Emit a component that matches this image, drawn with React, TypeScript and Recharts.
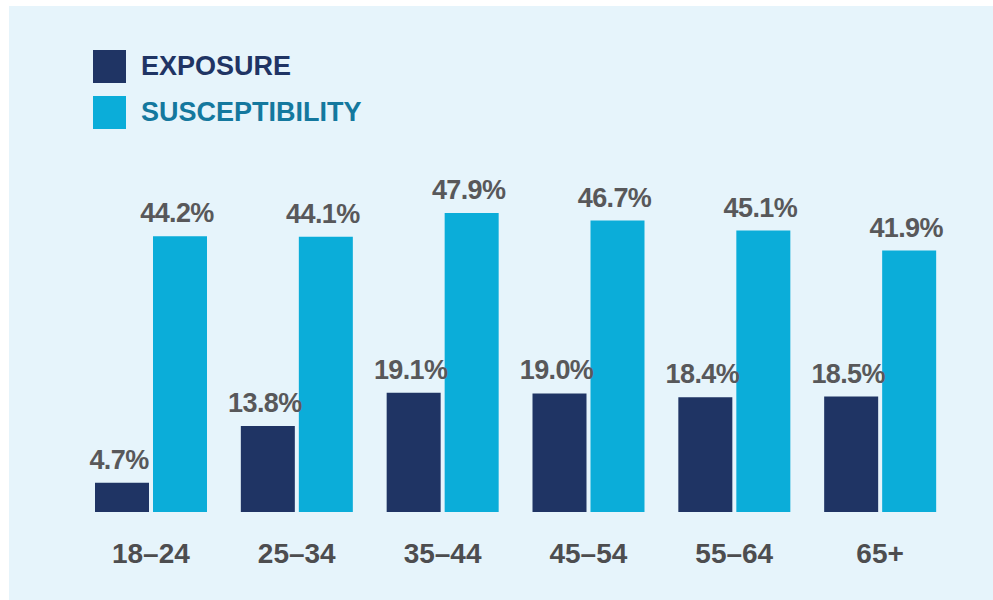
import { Bar, BarChart, LabelList, XAxis, YAxis } from 'recharts';

const ageGroups = ['18–24', '25–34', '35–44', '45–54', '55–64', '65+'];
const exposure = [4.7, 13.8, 19.1, 19.0, 18.4, 18.5];
const susceptibility = [44.2, 44.1, 47.9, 46.7, 45.1, 41.9];

const seriesNames = ['EXPOSURE', 'SUSCEPTIBILITY'];
const seriesColors = ['#1f3464', '#0badd9'];
const legendTextColors = ['#1f3464', '#14789e'];

const data = ageGroups.map((group, i) => ({
  group,
  exposure: exposure[i],
  susceptibility: susceptibility[i]
}));

const FONT = '"Liberation Sans", Arial, Helvetica, sans-serif';

// value label sits a little above the bar top
const renderValue = (props: any) => {
  const { x, y, width, value } = props;
  return (
    <text
      x={Number(x) + Number(width) / 2 - 3}
      y={Number(y) - 14}
      textAnchor="middle"
      fill="#58585a"
      fontFamily={FONT}
      fontWeight="bold"
      letterSpacing={-0.6}
      fontSize={27}
    >
      {`${Number(value).toFixed(1)}%`}
    </text>
  );
};

const AgeTick = (props: any) => {
  const { x, y, payload } = props;
  return (
    <text
      x={x}
      y={y + 43}
      textAnchor="middle"
      fill="#4d4d4f"
      fontFamily={FONT}
      fontWeight="bold"
      fontSize={28}
    >
      {payload.value}
    </text>
  );
};

export default function App() {
  return (
    <div style={{ position: 'fixed', left: 0, top: 0, width: 993, height: 600, background: '#ffffff' }}>
      {/* panel runs off the right/bottom edges */}
      <div style={{ position: 'fixed', left: 9, top: 6, width: 2000, height: 2000, background: '#e6f4fb' }} />

      <div style={{ position: 'absolute', left: 93, top: 50, fontFamily: FONT }}>
        {seriesNames.map((name, i) => (
          <div key={name} style={{ display: 'flex', alignItems: 'center', height: 33, marginBottom: 13 }}>
            <span style={{ width: 33, height: 33, background: seriesColors[i], display: 'inline-block' }} />
            <span style={{ marginLeft: 15, fontSize: 27, fontWeight: 'bold', color: legendTextColors[i], lineHeight: '33px' }}>
              {name}
            </span>
          </div>
        ))}
      </div>

      <div style={{ position: 'absolute', left: 0, top: 0 }}>
        <BarChart
          width={993}
          height={600}
          data={data}
          margin={{ top: 200, right: 40, bottom: 28, left: 78 }}
          barSize={54}
          barGap={4}
        >
          <XAxis dataKey="group" axisLine={false} tickLine={false} height={60} tick={<AgeTick />} interval={0} />
          <YAxis hide domain={[0, 50]} />
          <Bar dataKey="exposure" name={seriesNames[0]} fill={seriesColors[0]} isAnimationActive={false}>
            <LabelList dataKey="exposure" content={renderValue} />
          </Bar>
          <Bar dataKey="susceptibility" name={seriesNames[1]} fill={seriesColors[1]} isAnimationActive={false}>
            <LabelList dataKey="susceptibility" content={renderValue} />
          </Bar>
        </BarChart>
      </div>
    </div>
  );
}
